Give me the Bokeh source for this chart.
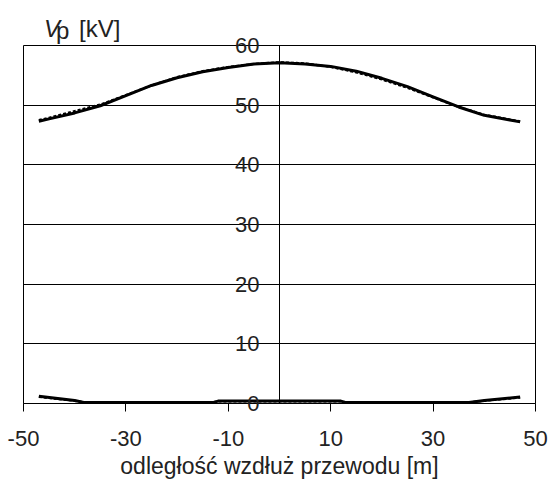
from bokeh.plotting import figure
from bokeh.models import Span, FixedTicker, Range1d
from bokeh.core.properties import value
from bokeh.embed import file_html
from bokeh.resources import INLINE

# data
x_up = [-47, -45, -40, -35, -30, -25, -20, -15, -10, -5, 0, 5, 10, 15, 20, 25, 30, 35, 40, 45, 47]
vp_solid = [47.3, 47.7, 48.7, 49.9, 51.6, 53.3, 54.6, 55.6, 56.3, 56.9, 57.1, 56.9, 56.5, 55.7, 54.5, 53.1, 51.4, 49.7, 48.3, 47.5, 47.2]
vp_dashed = [47.5, 47.9, 49.0, 50.1, 51.7, 53.3, 54.7, 55.7, 56.4, 56.9, 57.2, 57.0, 56.4, 55.5, 54.3, 52.9, 51.3, 49.7, 48.4, 47.6, 47.3]
x_low = [-47, -40, -38, -13, -12, 12, 13, 37, 40, 47]
low_solid = [1.2, 0.5, 0.15, 0.15, 0.4, 0.4, 0.15, 0.15, 0.5, 1.1]
low_dashed = [1.1, 0.45, 0.2, 0.2, 0.35, 0.35, 0.2, 0.2, 0.45, 1.0]
x_ticks = [-50, -30, -10, 10, 30, 50]
x_labels = ["-50", "-30", "-10", "10", "30", "50"]
y_ticks = [0, 10, 20, 30, 40, 50, 60]
y_labels = ["0", "10", "20", "30", "40", "50", "60"]
title_parts = ["V", "p", "[kV]"]

FONT = "Liberation Sans"
TXT = "#222222"

p = figure(width=549, height=484, output_backend="svg", toolbar_location=None,
           x_range=Range1d(-50, 50), y_range=Range1d(0, 60),
           min_border_left=23, min_border_right=14, min_border_top=45, min_border_bottom=81)
p.background_fill_color = "white"
p.border_fill_color = "white"
p.outline_line_color = "black"
p.outline_line_width = 1
p.outline_line_alpha = 1.0

# axes
p.yaxis.visible = False
p.xaxis.ticker = FixedTicker(ticks=x_ticks)
p.xaxis.major_label_overrides = {t: s for t, s in zip(x_ticks, x_labels)}
p.xaxis.axis_line_color = "black"
p.xaxis.major_tick_line_color = "black"
p.xaxis.major_tick_out = 8
p.xaxis.major_tick_in = 0
p.xaxis.minor_tick_line_color = None
p.xaxis.major_label_text_font = FONT
p.xaxis.major_label_text_font_size = "22px"
p.xaxis.major_label_text_color = TXT
p.xaxis.major_label_standoff = 19
p.xaxis.axis_label = "odległość wzdłuż przewodu [m]"
p.xaxis.axis_label_text_font = FONT
p.xaxis.axis_label_text_font_size = "23px"
p.xaxis.axis_label_text_font_style = "normal"
p.xaxis.axis_label_text_color = TXT
p.xaxis.axis_label_standoff = 4

p.xgrid.visible = False
p.ygrid.ticker = FixedTicker(ticks=y_ticks)
p.ygrid.grid_line_color = "black"
p.ygrid.grid_line_width = 1
p.ygrid.grid_line_alpha = 1.0

p.add_layout(Span(location=0, dimension="height", line_color="black", line_width=1))

# curves
p.line(x_up, vp_dashed, line_color="black", line_width=2.2, line_dash="3 2")
p.line(x_up, vp_solid, line_color="black", line_width=3)
p.line(x_low, low_dashed, line_color="black", line_width=2.2, line_dash="3 2")
p.line(x_low, low_solid, line_color="black", line_width=3)

# y tick labels at the centre axis (overlay level, not clipped)
p.text(x=[0] * len(y_ticks), y=y_ticks, text=y_labels, x_offset=-20,
       text_align="right", text_baseline="middle", text_font=value(FONT),
       text_font_size="22px", text_color=TXT, level="overlay")

# y axis title: italic V, p, [kV]
p.text(x=[-46.0], y=[62.9], text=[title_parts[0]], text_font=value(FONT), text_font_size="24px",
       text_font_style="italic", text_baseline="alphabetic", text_color=TXT, level="overlay")
p.text(x=[-46.0], y=[62.9], text=[title_parts[1]], x_offset=12, y_offset=2, text_font=value(FONT),
       text_font_size="24px", text_baseline="alphabetic", text_color=TXT, level="overlay")
p.text(x=[-46.0], y=[62.9], text=[title_parts[2]], x_offset=35, text_font=value(FONT),
       text_font_size="24px", text_baseline="alphabetic", text_color=TXT, level="overlay")

open("out.html", "w").write(file_html(p, INLINE))
